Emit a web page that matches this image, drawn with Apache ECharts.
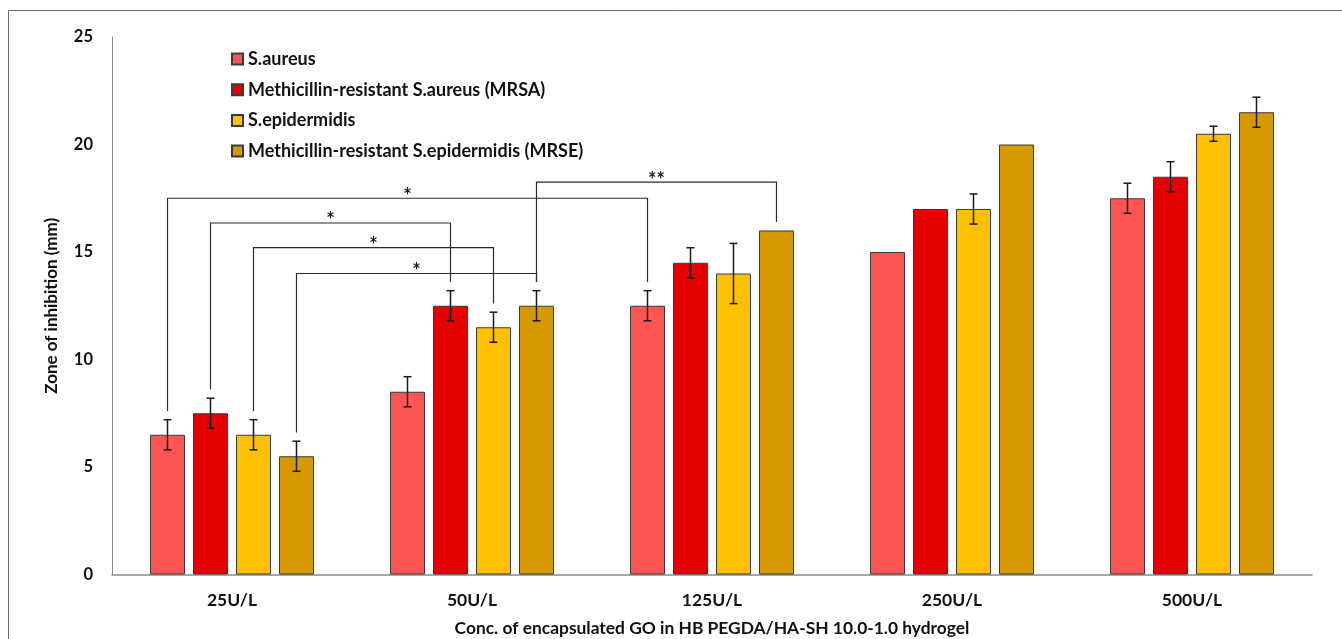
<!DOCTYPE html>
<html>
<head>
<meta charset="utf-8">
<script src="https://cdn.jsdelivr.net/npm/echarts@6/dist/echarts.min.js"></script>
<style>
  html, body { margin: 0; padding: 0; background: #fff; }
  #chart { width: 1342px; height: 639px; }
</style>
</head>
<body>
<div id="chart"></div>
<script>
// Zone of inhibition (mm) per GO concentration, mean ± error
const categories = ['25U/L', '50U/L', '125U/L', '250U/L', '500U/L'];
const seriesNames = [
  'S.aureus',
  'Methicillin-resistant S.aureus (MRSA)',
  'S.epidermidis',
  'Methicillin-resistant S.epidermidis (MRSE)'
];
const sAureus    = [6.5, 8.5, 12.5, 15, 17.5];
const sAureusErr = [0.7, 0.7, 0.7, 0, 0.7];
const mrsa       = [7.5, 12.5, 14.5, 17, 18.5];
const mrsaErr    = [0.7, 0.7, 0.7, 0, 0.7];
const sEpi       = [6.5, 11.5, 14, 17, 20.5];
const sEpiErr    = [0.7, 0.7, 1.4, 0.7, 0.35];
const mrse       = [5.5, 12.5, 16, 20, 21.5];
const mrseErr    = [0.7, 0.7, 0, 0, 0.7];
const yTicks     = [0, 5, 10, 15, 20, 25];

// Significance brackets: [category, series] at each end, bracket height, mark
const sigFrom  = [[0, 0], [0, 1], [0, 2], [0, 3], [1, 3]];
const sigTo    = [[2, 0], [1, 1], [1, 2], [1, 3], [2, 3]];
const sigLevel = [17.5, 16.35, 15.2, 14.0, 18.25];
const sigMark  = ['*', '*', '*', '*', '**'];

const values = [sAureus, mrsa, sEpi, mrse];
const errors = [sAureusErr, mrsaErr, sEpiErr, mrseErr];
const colors = ['#FF5454', '#E60000', '#FFC000', '#D69A00'];

const FONT = 'Lato';
const BAR_W = 35;
const BAR_GAP = 8;
const LEG_GAP = 0.4; // space between a bracket leg and the bar/error cap below it

function barOffset(s) {
  return (s - 1.5) * (BAR_W + BAR_GAP);
}

const chart = echarts.init(document.getElementById('chart'), null, { renderer: 'canvas' });

const barSeries = seriesNames.map((name, s) => ({
  name: name,
  type: 'bar',
  data: values[s],
  barWidth: BAR_W,
  barGap: (BAR_GAP / BAR_W * 100) + '%',
  itemStyle: { color: colors[s], borderColor: '#3a3a3a', borderWidth: 1 },
  emphasis: { disabled: true },
  z: 2
}));

const errorSeries = seriesNames.map((name, s) => ({
  type: 'custom',
  name: name + ' error',
  coordinateSystem: 'cartesian2d',
  data: values[s].map((v, i) => [i, v, errors[s][i]]),
  encode: { x: 0, y: 1 },
  silent: true,
  z: 5,
  renderItem: function (params, api) {
    const err = api.value(2);
    if (!err) return null;
    const i = api.value(0), v = api.value(1);
    const top = api.coord([i, v + err]);
    const bot = api.coord([i, v - err]);
    const x = top[0] + barOffset(s);
    const cap = 4;
    const style = { stroke: '#1a1a1a', lineWidth: 1.5 };
    return {
      type: 'group',
      children: [
        { type: 'line', shape: { x1: x, y1: top[1], x2: x, y2: bot[1] }, style: style },
        { type: 'line', shape: { x1: x - cap, y1: top[1], x2: x + cap, y2: top[1] }, style: style },
        { type: 'line', shape: { x1: x - cap, y1: bot[1], x2: x + cap, y2: bot[1] }, style: style }
      ]
    };
  }
}));

const bracketSeries = {
  type: 'custom',
  name: 'significance',
  coordinateSystem: 'cartesian2d',
  data: sigLevel.map((lv, k) => [sigFrom[k][0], lv]),
  encode: { x: 0, y: 1 },
  silent: true,
  clip: false,
  z: 6,
  renderItem: function (params, api) {
    const k = params.dataIndex;
    const lv = sigLevel[k];
    const a = sigFrom[k], b = sigTo[k];
    const aTop = values[a[1]][a[0]] + errors[a[1]][a[0]] + LEG_GAP;
    const bTop = values[b[1]][b[0]] + errors[b[1]][b[0]] + LEG_GAP;
    const pa = api.coord([a[0], aTop]);
    const pb = api.coord([b[0], bTop]);
    const yl = api.coord([a[0], lv])[1];
    const xa = pa[0] + barOffset(a[1]);
    const xb = pb[0] + barOffset(b[1]);
    return {
      type: 'group',
      children: [
        {
          type: 'polyline',
          shape: { points: [[xa, pa[1]], [xa, yl], [xb, yl], [xb, pb[1]]] },
          style: { stroke: '#2a2a2a', lineWidth: 1.2, fill: null }
        },
        {
          type: 'text',
          style: {
            text: sigMark[k],
            x: (xa + xb) / 2,
            y: yl - 2,
            align: 'center',
            verticalAlign: 'middle',
            font: 'bold 20px ' + FONT,
            fill: '#1a1a1a'
          }
        }
      ]
    };
  }
};

chart.setOption({
  animation: false,
  backgroundColor: '#ffffff',
  textStyle: { fontFamily: FONT },
  graphic: [{
    type: 'rect',
    shape: { x: 8.5, y: 10.5, width: 1500, height: 800 },
    style: { fill: null, stroke: '#6a6a6a', lineWidth: 1 },
    silent: true,
    z: -10
  }],
  grid: {
    left: 112, right: 30, top: 37, bottom: 64.5,
    containLabel: false,
    outerBoundsMode: 'none'
  },
  legend: {
    orient: 'vertical',
    left: 231,
    top: 49,
    padding: 0,
    itemWidth: 11,
    itemHeight: 11,
    itemGap: 10.7,
    icon: 'rect',
    selectedMode: false,
    data: seriesNames,
    textStyle: { fontFamily: FONT, fontWeight: 'bold', fontSize: 18, lineHeight: 20, color: '#111' }
  },
  xAxis: {
    type: 'category',
    data: categories,
    name: 'Conc. of encapsulated GO in HB PEGDA/HA-SH 10.0-1.0 hydrogel',
    nameLocation: 'middle',
    nameGap: 45,
    nameTextStyle: { fontFamily: FONT, fontWeight: 'bold', fontSize: 17.4, color: '#111' },
    axisLine: { lineStyle: { color: '#8a8a8a', width: 1.5 } },
    axisTick: { show: false },
    axisLabel: { fontFamily: FONT, fontWeight: 'bold', fontSize: 17.5, color: '#111', margin: 17 },
    splitLine: { show: false }
  },
  yAxis: {
    type: 'value',
    min: yTicks[0],
    max: yTicks[yTicks.length - 1],
    interval: yTicks[1] - yTicks[0],
    name: 'Zone of inhibition (mm)',
    nameLocation: 'middle',
    nameGap: 52,
    nameTextStyle: { fontFamily: FONT, fontWeight: 'bold', fontSize: 17, color: '#111' },
    axisLine: { show: true, lineStyle: { color: '#8a8a8a', width: 1 } },
    axisTick: { show: false },
    axisLabel: { fontFamily: FONT, fontWeight: 'bold', fontSize: 16.5, color: '#111', margin: 19 },
    splitLine: { show: false }
  },
  series: barSeries.concat(errorSeries, [bracketSeries])
});
</script>
</body>
</html>
